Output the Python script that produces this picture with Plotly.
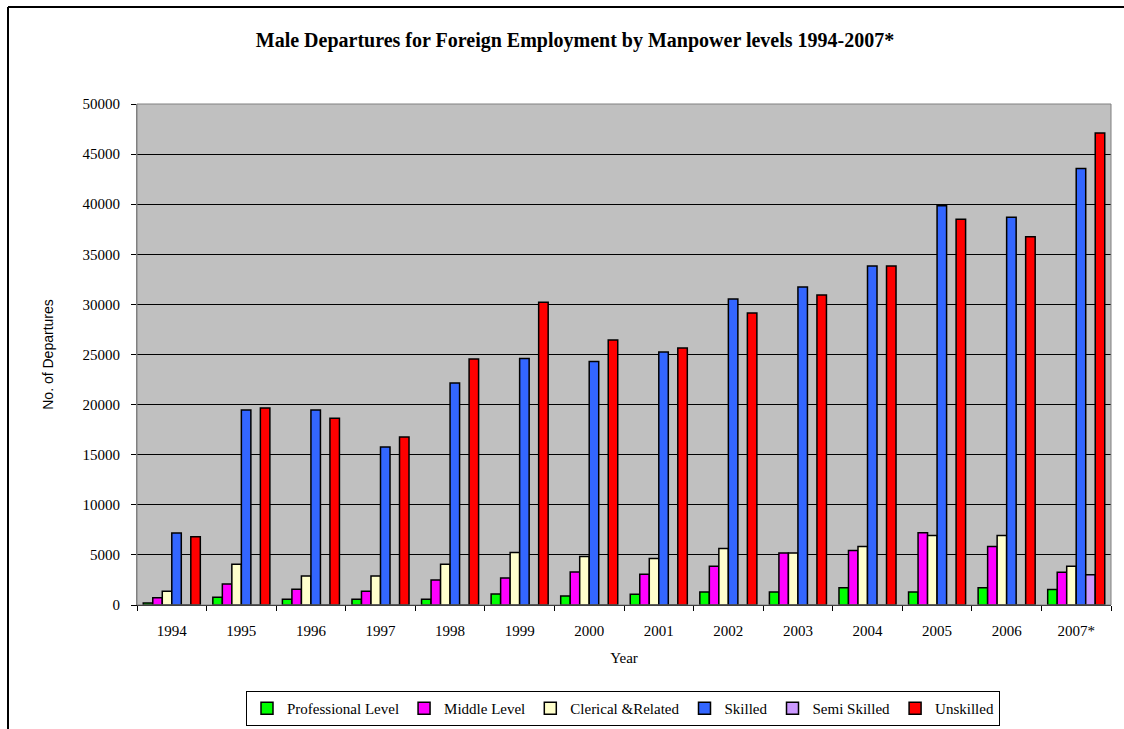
import plotly.graph_objects as go

years = ["1994", "1995", "1996", "1997", "1998", "1999", "2000", "2001",
         "2002", "2003", "2004", "2005", "2006", "2007*"]

professional = [200, 770, 570, 570, 570, 1100, 900, 1070, 1300, 1300, 1730, 1300, 1730, 1550]
middle = [730, 2100, 1560, 1370, 2500, 2700, 3300, 3060, 3870, 5200, 5430, 7200, 5830, 3280]
clerical = [1370, 4070, 2900, 2900, 4070, 5230, 4830, 4630, 5630, 5200, 5830, 6930, 6930, 3870]
skilled = [7180, 19450, 19450, 15760, 22150, 24600, 24300, 25250, 30540, 31740, 33830, 39850, 38700, 43570]
semi_skilled = [0, 0, 0, 0, 0, 0, 0, 0, 0, 0, 0, 0, 0, 3030]
unskilled = [6800, 19650, 18650, 16760, 24550, 30220, 26450, 25650, 29150, 30940, 33840, 38500, 36750, 47100]

series_names = ["Professional Level", "Middle Level", "Clerical &Related",
                "Skilled", "Semi Skilled", "Unskilled"]
series_values = [professional, middle, clerical, skilled, semi_skilled, unskilled]
series_colors = ["#00FF00", "#FF00FF", "#FFFFCC", "#3366FF", "#CC99FF", "#FF0000"]

y_ticks = list(range(0, 50001, 5000))

serif = "Liberation Serif, Times New Roman, serif"

fig = go.Figure()
for name, vals, col in zip(series_names, series_values, series_colors):
    fig.add_trace(go.Bar(
        name=name, x=years, y=vals,
        marker=dict(color=col, line=dict(color="black", width=1.5)),
    ))

W, H = 1124, 729
L, R, T, B = 137, 1111, 104, 605
pw, ph = R - L, B - T

def px_x(p):
    return (p - L) / pw

def px_y(p):
    return (B - p) / ph

fig.update_layout(
    width=W, height=H,
    margin=dict(l=L, r=W - R, t=T, b=H - B, pad=0),
    paper_bgcolor="white",
    plot_bgcolor="#C0C0C0",
    barmode="group",
    bargap=0.18,
    bargroupgap=0,
    title=dict(
        text="<b>Male Departures for Foreign Employment by Manpower levels 1994-2007*</b>",
        font=dict(family=serif, size=20, color="black"),
        x=575 / W, xanchor="center",
        y=1 - 40 / H, yanchor="middle",
    ),
    font=dict(family=serif, size=15, color="black"),
    xaxis=dict(
        type="category",
        tickson="boundaries",
        ticks="outside", ticklen=5, tickcolor="black",
        showline=True, linecolor="black", linewidth=1,
        showgrid=False,
        ticklabelstandoff=12,
        tickfont=dict(family=serif, size=15, color="black"),
        title=dict(text="Year", font=dict(family=serif, size=15, color="black"), standoff=14),
    ),
    yaxis=dict(
        range=[0, 50000],
        tickvals=y_ticks,
        ticktext=[str(v) for v in y_ticks],
        ticks="outside", ticklen=5, tickcolor="black",
        showline=True, linecolor="#808080", linewidth=1,
        showgrid=True, gridcolor="black", gridwidth=1,
        zeroline=False,
        ticklabelstandoff=8,
        tickfont=dict(family=serif, size=15, color="black"),
        title=dict(text="No. of Departures",
                   font=dict(family="Liberation Sans Narrow, Liberation Sans, Arial, sans-serif", size=14, color="black"),
                   standoff=25),
    ),
    legend=dict(
        orientation="h",
        xref="container", yref="container",
        x=623 / W, xanchor="center",
        y=1 - 726 / H, yanchor="bottom",
        bordercolor="black", borderwidth=1, bgcolor="white",
        font=dict(family=serif, size=15, color="black"),
        itemwidth=30,
        tracegroupgap=0,
    ),
    showlegend=True,
)

# plot-area frame (gray) and chart outer border
fig.add_shape(type="rect", xref="paper", yref="paper", x0=0, y0=0, x1=1, y1=1,
              line=dict(color="#808080", width=1), layer="above")
fig.add_shape(type="line", xref="paper", yref="paper",
              x0=px_x(8), y0=px_y(7), x1=px_x(1130), y1=px_y(7),
              line=dict(color="black", width=2))
fig.add_shape(type="line", xref="paper", yref="paper",
              x0=px_x(8), y0=px_y(7), x1=px_x(8), y1=px_y(740),
              line=dict(color="black", width=2))

fig.write_html("out.html", config={"displayModeBar": False},
               post_script="document.body.style.margin='0';")
